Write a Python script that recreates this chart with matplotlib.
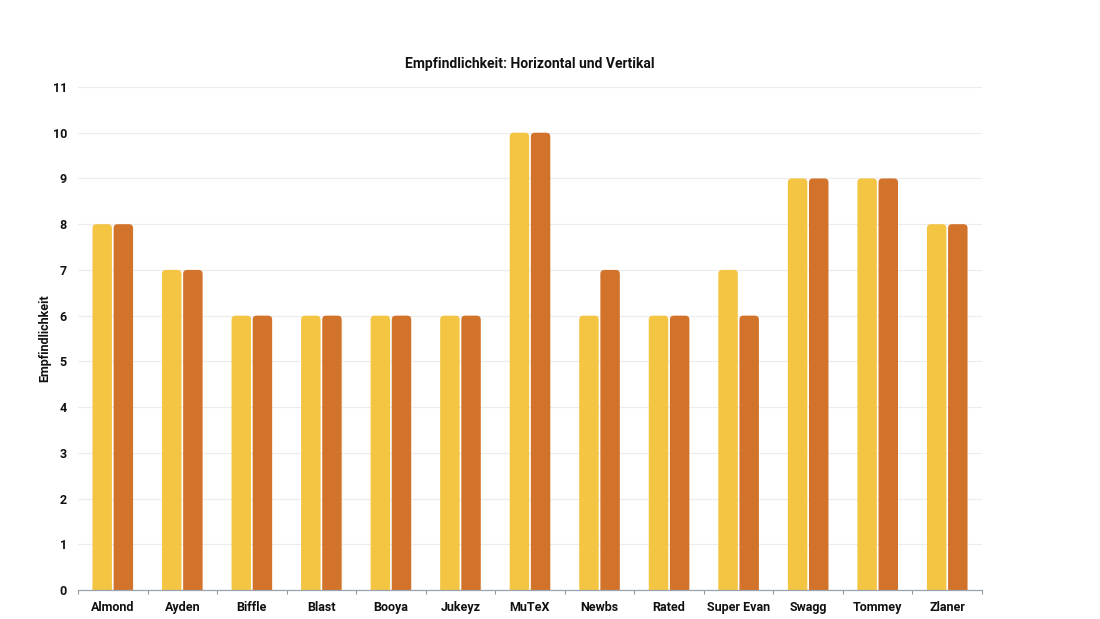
import matplotlib
matplotlib.use("Agg")
import matplotlib.pyplot as plt
from matplotlib.patches import FancyBboxPatch
import numpy as np

categories = ["Almond", "Ayden", "Biffle", "Blast", "Booya", "Jukeyz", "MuTeX",
              "Newbs", "Rated", "Super Evan", "Swagg", "Tommey", "Zlaner"]
horizontal = [8, 7, 6, 6, 6, 6, 10, 6, 6, 7, 9, 9, 8]
vertikal = [8, 7, 6, 6, 6, 6, 10, 7, 6, 6, 9, 9, 8]
yticks = list(range(0, 12))

plt.rcParams['font.family'] = ['Roboto', 'DejaVu Sans']

fig = plt.figure(figsize=(11, 6.19), dpi=100)
ax = fig.add_axes([78/1100, 1-590/619, (982-78)/1100, (590-87)/619])
ax.set_xlim(-0.5, 12.5)
ax.set_ylim(0, 11)

x = np.arange(len(categories))
w = 0.28
off = 0.152
col_h = "#F4C543"
col_v = "#D2732B"

# px per unit
px_x = (982-78)/13.0
px_y = (590-87)/11.0
r = 4.0/px_x
aspect = (4.0/px_y)/r

def rbar(xc, h, color):
    p = FancyBboxPatch((xc - w/2, -0.3), w, h + 0.3,
                       boxstyle=f"round,pad=0,rounding_size={r}",
                       mutation_aspect=aspect, facecolor=color,
                       edgecolor="none", zorder=3, clip_on=True)
    ax.add_patch(p)

for xi, hv, vv in zip(x, horizontal, vertikal):
    rbar(xi - off, hv, col_h)
    rbar(xi + off, vv, col_v)

ax.set_yticks(yticks)
ax.set_yticklabels([str(t) for t in yticks], fontsize=9, fontweight='bold', color='#111111')
ax.grid(axis='y', color='#ececec', linewidth=0.8, zorder=0)
ax.set_axisbelow(True)

ax.set_xticks(np.arange(-0.5, 13, 1))
ax.set_xticklabels([])
ax.set_xticks(x, minor=True)
ax.set_xticklabels(categories, minor=True, fontsize=9, fontweight='bold', color='#111111')
ax.tick_params(axis='x', which='major', length=3, color='#8a96a8', width=0.8)
ax.tick_params(axis='x', which='minor', length=0, pad=8)
ax.tick_params(axis='y', length=0, pad=8)

for s in ['top', 'right', 'left']:
    ax.spines[s].set_visible(False)
ax.spines['bottom'].set_color('#9aa3b0')
ax.spines['bottom'].set_linewidth(0.9)
ax.spines['bottom'].set_zorder(4)

ax.set_ylabel("Empfindlichkeit", fontsize=9, fontweight='bold', color='#111111', labelpad=1)
ax.set_title("Empfindlichkeit: Horizontal und Vertikal", fontsize=10, fontweight='bold',
             color='#111111', pad=14)

fig.savefig("out.png", dpi=100)
